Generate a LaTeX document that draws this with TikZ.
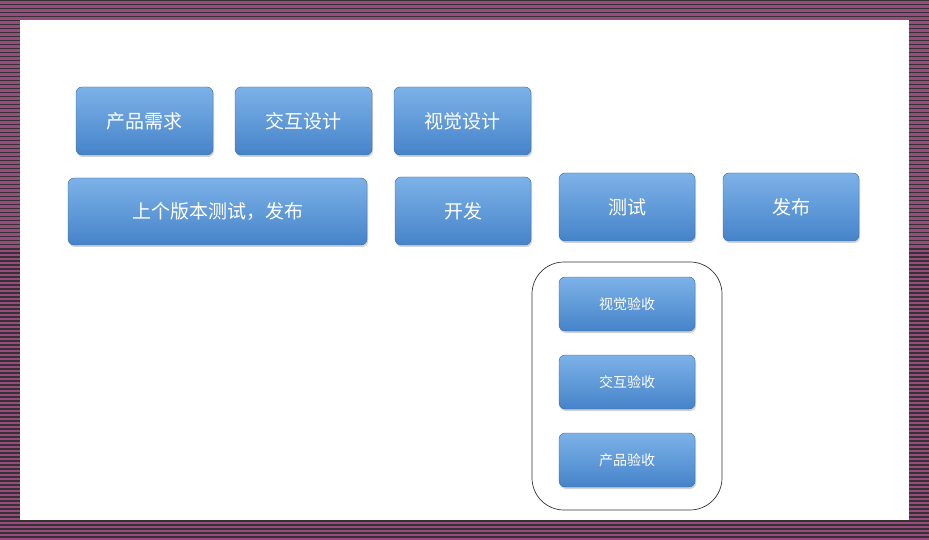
\documentclass[tikz,border=0pt]{standalone}
\usepackage{fontspec}
\setmainfont{Noto Sans CJK SC}
\usetikzlibrary{shadows}
\definecolor{frame}{HTML}{9A4A7E}
\tikzset{
  bluebox/.style={rounded corners=6pt, top color=blue!25!cyan!60!black!0!white!0!boxtop, bottom color=boxbot, draw=boxbot!80!black, line width=0.4pt, text=white, font=\fontsize{19}{20}\selectfont, drop shadow={shadow xshift=1pt, shadow yshift=-2pt, opacity=0.35}, inner sep=0pt},
  smallbox/.style={bluebox, font=\fontsize{14}{16}\selectfont}
}
\definecolor{boxtop}{HTML}{7DB2E8}
\definecolor{boxbot}{HTML}{4583C9}
\begin{document}
\begin{tikzpicture}[x=1pt,y=-1pt]
\useasboundingbox (0,0) rectangle (929,540);
\fill[frame] (0,0) rectangle (929,540);
\foreach \i in {0,4,...,540} {\fill[black!80] (0,\i) rectangle (929,\i+1.5);}
\fill[white] (20,20) rectangle (909,520);
\newcommand{\bx}[6]{\node[#6, minimum width=#4-#2, minimum height=#5-#3] (#1) at ({(#2+#4)/2},{(#3+#5)/2}) {\strut};}
\node[bluebox, minimum width=137, minimum height=68] (a) at (144.5,121) {产品需求};
\node[bluebox, minimum width=137, minimum height=68] (b) at (303.5,121) {交互设计};
\node[bluebox, minimum width=137, minimum height=68] (c) at (462.5,121) {视觉设计};
\node[bluebox, minimum width=299, minimum height=67] (d) at (217.5,211.5) {上个版本测试，发布};
\node[bluebox, minimum width=136, minimum height=68] (e) at (463,211) {开发};
\node[bluebox, minimum width=136, minimum height=68] (f) at (627,207) {测试};
\node[bluebox, minimum width=136, minimum height=68] (g) at (791,207) {发布};
\node[draw=black!80, rounded corners=32pt, line width=0.7pt, minimum width=190, minimum height=248] (h) at (627,386) {};
\node[smallbox, minimum width=136, minimum height=54] (i) at (627,304) {视觉验收};
\node[smallbox, minimum width=136, minimum height=54] (j) at (627,382) {交互验收};
\node[smallbox, minimum width=136, minimum height=54] (k) at (627,460) {产品验收};
\end{tikzpicture}
\end{document}
